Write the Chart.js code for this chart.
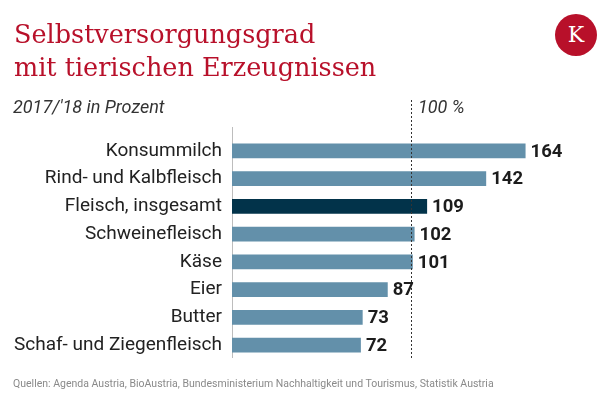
<!DOCTYPE html>
<html>
<head>
<meta charset="utf-8">
<script src="https://cdn.jsdelivr.net/npm/chart.js@4"></script>
<style>
  body { margin: 0; background: #fff; }
  #wrap { position: relative; width: 616px; height: 408px; overflow: hidden; }
  #grafica { position: absolute; left: 0; top: 0; }
  .titulo { position: absolute; left: 14px; top: 18px; font-family: "DejaVu Serif", serif; font-size: 25.5px; line-height: 33px; color: #b8102a; margin: 0; font-weight: normal; }
  .sub { position: absolute; top: 96px; font-family: Roboto, sans-serif; font-style: italic; font-size: 18px; color: #333; }
  .fuente { position: absolute; left: 13px; top: 377px; font-family: Roboto, sans-serif; font-size: 10.5px; color: #8a8a8a; }
  .logo { position: absolute; left: 555px; top: 14px; width: 42px; height: 42px; border-radius: 50%; background: #b8102a; color: #fff; font-family: "DejaVu Serif", serif; font-size: 22px; line-height: 42px; text-align: center; }
</style>
</head>
<body>
<div id="wrap">
  <canvas id="grafica" width="616" height="408"></canvas>
  <h1 class="titulo">Selbstversorgungsgrad<br>mit tierischen Erzeugnissen</h1>
  <div class="logo">K</div>
  <div class="sub" style="left:13px">2017/'18 in Prozent</div>
  <div class="sub" style="left:418px">100 %</div>
  <div class="fuente">Quellen: Agenda Austria, BioAustria, Bundesministerium Nachhaltigkeit und Tourismus, Statistik Austria</div>
</div>
<script>
var categorias = ['Konsummilch', 'Rind- und Kalbfleisch', 'Fleisch, insgesamt', 'Schweinefleisch', 'Käse', 'Eier', 'Butter', 'Schaf- und Ziegenfleisch'];
var valores = [164, 142, 109, 102, 101, 87, 73, 72];
var colores = ['#6390aa', '#6390aa', '#02334a', '#6390aa', '#6390aa', '#6390aa', '#6390aa', '#6390aa'];
var referencia = 100;

// eje vertical y linea punteada del 100 %
var lineas = {
    id: 'lineas',
    beforeDatasetsDraw: function(chart) {
        var ctx = chart.ctx;
        var x = chart.scales.x;
        ctx.save();
        ctx.strokeStyle = '#bdbdbd';
        ctx.lineWidth = 1;
        ctx.beginPath();
        ctx.moveTo(x.getPixelForValue(0) + 0.5, 127);
        ctx.lineTo(x.getPixelForValue(0) + 0.5, 358);
        ctx.stroke();
        ctx.restore();
    },
    afterDatasetsDraw: function(chart) {
        var ctx = chart.ctx;
        var px = Math.round(chart.scales.x.getPixelForValue(referencia)) + 0.5;
        ctx.save();
        ctx.strokeStyle = '#333';
        ctx.lineWidth = 1;
        ctx.setLineDash([2, 2]);
        ctx.beginPath();
        ctx.moveTo(px, 100);
        ctx.lineTo(px, 358);
        ctx.stroke();
        ctx.setLineDash([]);
        // valores
        ctx.fillStyle = '#1c1c1c';
        ctx.font = 'bold 18.5px Roboto';
        ctx.textBaseline = 'middle';
        chart.getDatasetMeta(0).data.forEach(function(bar, i) {
            ctx.fillText(valores[i], bar.x + 5, bar.y + 1);
        });
        ctx.restore();
    }
};

var ctx = document.getElementById('grafica').getContext('2d');
var myChart = new Chart(ctx, {
    type: 'bar',
    data: {
        labels: categorias,
        datasets: [{
            data: valores,
            backgroundColor: colores,
            borderWidth: 0,
            categoryPercentage: 1,
            barPercentage: 0.54
        }]
    },
    options: {
        indexAxis: 'y',
        responsive: false,
        animation: false,
        layout: { padding: { top: 137, bottom: 49, left: 0, right: 26 } },
        scales: {
            x: { display: false, min: 0, max: 200 },
            y: {
                afterFit: function(s) { s.width = 232; },
                grid: { display: false, drawTicks: false },
                border: { display: false },
                ticks: { color: '#222', padding: 10, font: { family: 'Roboto', size: 19 } }
            }
        },
        plugins: {
            legend: { display: false },
            tooltip: { enabled: false }
        }
    },
    plugins: [lineas]
});
</script>
</body>
</html>
